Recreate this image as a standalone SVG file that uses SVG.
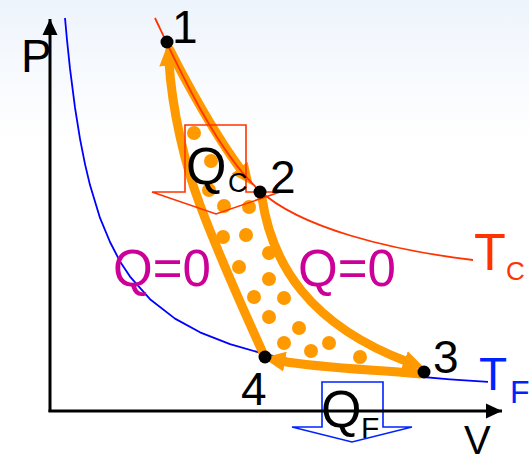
<svg xmlns="http://www.w3.org/2000/svg" width="529" height="462" viewBox="0 0 529 462">
  <defs>
    <linearGradient id="bg" x1="0" y1="0" x2="0" y2="1">
      <stop offset="0" stop-color="#eef4fc"/>
      <stop offset="0.3" stop-color="#ffffff"/>
      <stop offset="1" stop-color="#ffffff"/>
    </linearGradient>
    <marker id="oarrow" markerUnits="userSpaceOnUse" markerWidth="24" markerHeight="22" viewBox="0 -11 24 22" refX="4" refY="0" orient="auto">
      <path d="M0,-10 L22,0 L0,10 z" fill="#ff9900"/>
    </marker>
    <marker id="axarrow" markerUnits="userSpaceOnUse" markerWidth="18" markerHeight="18" viewBox="0 -9 18 18" refX="16" refY="0" orient="auto">
      <path d="M0,-7.5 L16,0 L0,7.5 z" fill="#000"/>
    </marker>
  </defs>
  <style>
    .lbl { font-family: "Liberation Sans", "DejaVu Sans", sans-serif; }
    .blk { fill: #000; }
    .mag { fill: #cc0099; }
    .red { fill: #ff3300; }
    .blu { fill: #0022ff; }
    .leg { fill: none; stroke: #ff9900; stroke-width: 9; stroke-linecap: round; marker-end: url(#oarrow); }
    .dot { fill: #ff9900; }
    .pt { fill: #000; }
    .iso { fill: none; stroke-width: 1.8; stroke-linejoin: round; }
    .heat { fill: none; stroke-width: 1.6; stroke-linejoin: miter; }
    .axis { fill: none; stroke: #000; stroke-width: 3; marker-end: url(#axarrow); }
  </style>

  <rect x="0" y="0" width="529" height="462" fill="url(#bg)"/>

  <!-- isotherm T_F -->
  <path id="isoF" class="iso" stroke="#0000ff" d="M65,18 L67,40 L70,68.7 L75,107.7 L80,138.8 L85,164.1 L90,185.1 L100,217.9 L110,242 L120,261.4 L130,276.6 L150,299.2 L175,318.6 L200,332.3 L230,344.2 L265,354.2 L300,361.6 L350,369.3 L400,375 L450,379.3 L488,381.9"/>

  <!-- cycle connectors -->
  <g id="connectors">
    <path id="leg12" class="leg" d="M170,50 C185,80 215,135 242,171"/>
    <path id="leg23" class="leg" d="M262,198 C272,265 310,325 408,362"/>
    <path id="leg34" class="leg" d="M420,374 C380,370 320,368 281,361"/>
    <path id="leg41" class="leg" d="M263,353 C248,320 215,245 200,205 C185,165 172,110 169,62"/>
  </g>

  <!-- interior dots -->
  <g id="fill-dots">
    <circle class="dot" cx="194" cy="133" r="7"/>
    <circle class="dot" cx="211" cy="161" r="7"/>
    <circle class="dot" cx="209" cy="190" r="7"/>
    <circle class="dot" cx="224" cy="206" r="7"/>
    <circle class="dot" cx="249" cy="207" r="7"/>
    <circle class="dot" cx="223" cy="237" r="7"/>
    <circle class="dot" cx="246" cy="235" r="7"/>
    <circle class="dot" cx="269" cy="253" r="7"/>
    <circle class="dot" cx="239" cy="267" r="7"/>
    <circle class="dot" cx="269" cy="279" r="7"/>
    <circle class="dot" cx="254" cy="297" r="7"/>
    <circle class="dot" cx="284" cy="298" r="7"/>
    <circle class="dot" cx="269" cy="317" r="7"/>
    <circle class="dot" cx="299" cy="328" r="7"/>
    <circle class="dot" cx="284" cy="343" r="7"/>
    <circle class="dot" cx="311" cy="351" r="7"/>
    <circle class="dot" cx="329" cy="343" r="7"/>
    <circle class="dot" cx="360" cy="357" r="7"/>
  </g>

  <!-- isotherm T_C -->
  <path id="isoC" class="iso" stroke="#ff3300" d="M155,18 C175,60 215,150 259,190 C300,228 390,250 473,260"/>

  <!-- heat arrows -->
  <g id="heatC">
    <path class="heat" stroke="#ff3300" d="M185,125 L246,125 L246,192 L280,192 L216,214 L152,192 L185,192 Z"/>
    <text class="lbl blk" x="186" y="184" font-size="52">Q<tspan x="228" y="192" font-size="27">C</tspan></text>
  </g>
  <g id="heatF">
    <path class="heat" stroke="#0022ff" d="M322,382 L383,382 L383,427 L412,427 L352,442 L292,427 L322,427 Z"/>
    <text class="lbl blk" x="321" y="427" font-size="52">Q<tspan x="361" y="438" font-size="30">F</tspan></text>
  </g>

  <!-- axes -->
  <g id="axes">
    <path class="axis" d="M50,412 L50,19"/>
    <path class="axis" d="M48.5,411 L502,411"/>
    <text class="lbl blk" x="21" y="72" font-size="46">P</text>
    <text class="lbl blk" x="464" y="454" font-size="40">V</text>
  </g>

  <!-- state nodes -->
  <g id="state1">
    <circle class="pt" cx="167" cy="42" r="6.5"/>
    <text class="lbl blk" x="172" y="43" font-size="46">1</text>
  </g>
  <g id="state2">
    <circle class="pt" cx="260" cy="192" r="6.5"/>
    <text class="lbl blk" x="270" y="193" font-size="46">2</text>
  </g>
  <g id="state3">
    <circle class="pt" cx="424" cy="372" r="6.5"/>
    <text class="lbl blk" x="433" y="373" font-size="46">3</text>
  </g>
  <g id="state4">
    <circle class="pt" cx="265" cy="357" r="6.5"/>
    <text class="lbl blk" x="241" y="405" font-size="46">4</text>
  </g>

  <!-- process labels -->
  <g id="labels">
    <text class="lbl mag" x="113" y="286" font-size="51">Q=0</text>
    <text class="lbl mag" x="298" y="286" font-size="51">Q=0</text>
    <text class="lbl red" x="474" y="270" font-size="52">T<tspan x="506" y="280" font-size="26">C</tspan></text>
    <text class="lbl blu" x="479" y="390" font-size="46">T<tspan x="510" y="403" font-size="32">F</tspan></text>
  </g>
</svg>
